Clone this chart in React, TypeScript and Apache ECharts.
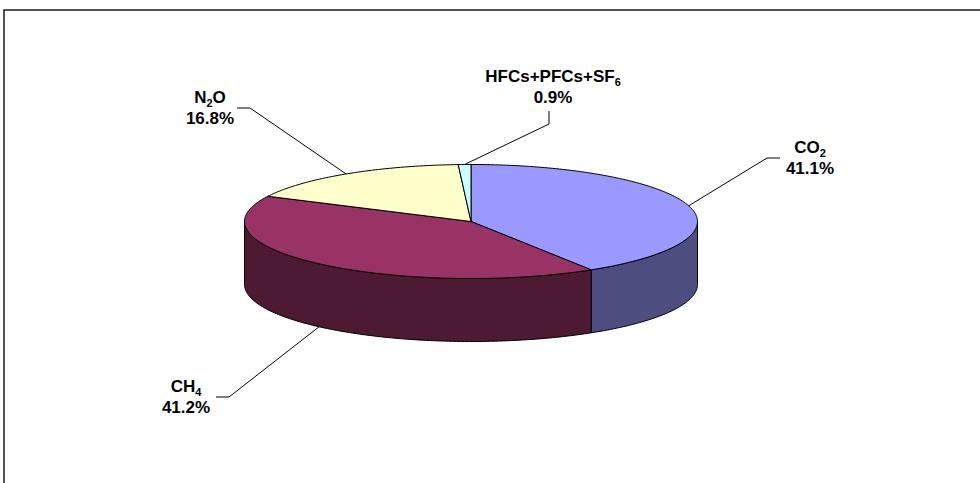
import React, { useEffect, useRef } from 'react';
import * as echarts from 'echarts';

// ---- data ----
const gases: string[] = ['CO2', 'CH4', 'N2O', 'HFCs+PFCs+SF6'];
const shares: number[] = [41.1, 41.2, 16.8, 0.9];
const topColors: string[] = ['#9999FF', '#993366', '#FFFFCC', '#CCFFFF'];
const sideColors: string[] = ['#4D4D80', '#4D1A33', '#80806A', '#6A8080'];

// ---- layout (pixels) ----
const CX = 471;
const CY = 221.5;
const RX = 226.5;
const RY = 57;
const DEPTH = 63;
// label block center, leader start point, stub vector
const labelLayout = [
  { x: 810, y: 158, sx: 780, sy: 158, dx: -13, dy: 0 },
  { x: 186, y: 397, sx: 216, sy: 397, dx: 13, dy: 0 },
  { x: 210, y: 108, sx: 237, sy: 108, dx: 13, dy: 0 },
  { x: 553, y: 87, sx: 549, sy: 111, dx: 0, dy: 13 },
];

const FONT = '"Liberation Sans", Arial, Helvetica, sans-serif';

function toRich(name: string): string {
  return name
    .replace(/([A-Za-z+])(\d+)/g, '$1}{s|$2}{m|')
    .replace(/^/, '{m|')
    .concat('}')
    .replace(/\{m\|\}/g, '');
}

function pt(angleDeg: number, drop: number): number[] {
  const a = (angleDeg * Math.PI) / 180;
  return [CX + RX * Math.sin(a), CY - RY * Math.cos(a) + drop];
}

function arcPoints(a0: number, a1: number, drop: number): number[][] {
  const pts: number[][] = [];
  const n = Math.max(2, Math.ceil(Math.abs(a1 - a0)));
  for (let i = 0; i <= n; i++) pts.push(pt(a0 + ((a1 - a0) * i) / n, drop));
  return pts;
}

export default function App() {
  const ref = useRef<HTMLDivElement>(null);
  useEffect(() => {
    if (!ref.current) return;
    const chart = echarts.init(ref.current, undefined, { renderer: 'svg' });
    const total = shares.reduce((s, v) => s + v, 0);
    let acc = 0;
    const sliceData = shares.map((v, i) => {
      const start = (acc / total) * 360;
      acc += v;
      const end = (acc / total) * 360;
      return [start, end, v, i];
    });

    chart.setOption({
      animation: false,
      backgroundColor: '#ffffff',
      graphic: [
        {
          type: 'rect',
          shape: { x: 4, y: 10, width: 1100, height: 600 },
          style: { fill: 'none', stroke: '#1a1a1a', lineWidth: 1.5 },
          silent: true,
        },
      ],
      series: [
        {
          type: 'custom',
          coordinateSystem: 'none',
          data: sliceData,
          renderItem: (params: any, api: any) => {
            const a0 = api.value(0) as number;
            const a1 = api.value(1) as number;
            const val = api.value(2) as number;
            const idx = params.dataIndex as number;
            const children: any[] = [];
            // side wall (front half only: 90..270)
            const s0 = Math.max(a0, 90);
            const s1 = Math.min(a1, 270);
            if (s1 > s0) {
              const topArc = arcPoints(s0, s1, 0);
              const botArc = arcPoints(s1, s0, DEPTH);
              children.push({
                type: 'polygon',
                z2: 1,
                shape: { points: topArc.concat(botArc) },
                style: { fill: sideColors[idx], stroke: '#000', lineWidth: 1 },
              });
            }
            // top face
            children.push({
              type: 'polygon',
              z2: 10,
              shape: { points: [[CX, CY]].concat(arcPoints(a0, a1, 0)) },
              style: { fill: topColors[idx], stroke: '#000', lineWidth: 1 },
            });
            // leader line to mid angle
            const mid = (a0 + a1) / 2;
            const front = mid > 90 && mid < 270;
            const anchor = pt(mid, front ? DEPTH : 0);
            const L = labelLayout[idx];
            children.push({
              type: 'polyline',
              z2: 20,
              shape: {
                points: [
                  [L.sx, L.sy],
                  [L.sx + L.dx, L.sy + L.dy],
                  anchor,
                ],
              },
              style: { fill: 'none', stroke: '#000', lineWidth: 1 },
            });
            children.push({
              type: 'text',
              z2: 20,
              x: L.x,
              y: L.y,
              style: {
                text: toRich(gases[idx]) + '\n{m|' + val.toFixed(1) + '%}',
                align: 'center',
                verticalAlign: 'middle',
                rich: {
                  m: {
                    fontSize: 17,
                    fontWeight: 'bold',
                    fontFamily: FONT,
                    lineHeight: 21,
                    fill: '#000',
                  },
                  s: {
                    fontSize: 11,
                    fontWeight: 'bold',
                    fontFamily: FONT,
                    lineHeight: 13,
                    verticalAlign: 'bottom',
                    fill: '#000',
                  },
                },
              },
            });
            return { type: 'group', children };
          },
        },
      ],
    });
    return () => chart.dispose();
  }, []);
  return (
    <div
      ref={ref}
      style={{ position: 'fixed', left: 0, top: 0, width: 980, height: 483, background: '#fff' }}
    />
  );
}
